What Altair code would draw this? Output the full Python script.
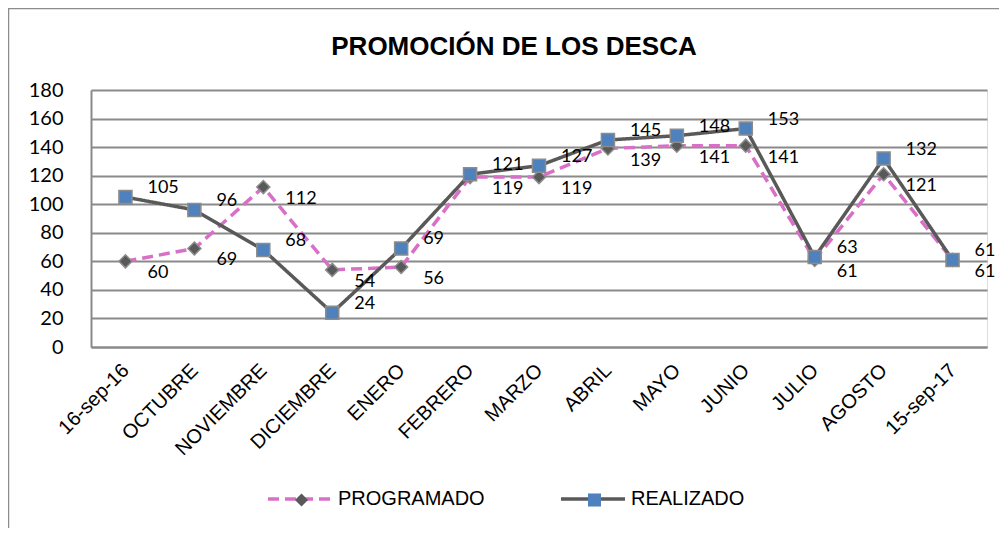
import altair as alt
import pandas as pd

categorias = ["16-sep-16", "OCTUBRE", "NOVIEMBRE", "DICIEMBRE", "ENERO", "FEBRERO",
              "MARZO", "ABRIL", "MAYO", "JUNIO", "JULIO", "AGOSTO", "15-sep-17"]
programado = [60, 69, 112, 54, 56, 119, 119, 139, 141, 141, 61, 121, 61]
realizado = [105, 96, 68, 24, 69, 121, 127, 145, 148, 153, 63, 132, 61]
series = ["PROGRAMADO", "REALIZADO"]
marcadores = ["PROGRAMADO ", "REALIZADO "]
y_ticks = [0, 20, 40, 60, 80, 100, 120, 140, 160, 180]
titulo = "PROMOCIÓN DE LOS DESCA"

rows = []
for i, c in enumerate(categorias):
    rows.append({"mes": c, "valor": programado[i], "serie": series[0], "serie_m": marcadores[0], "orden": 0})
for i, c in enumerate(categorias):
    rows.append({"mes": c, "valor": realizado[i], "serie": series[1], "serie_m": marcadores[1], "orden": 1})
df = pd.DataFrame(rows)

PINK = "#D870C8"
DARK = "#595959"
BLUE = "#4F81BD"
GRIDC = "#8A8A8A"
LEG_FONT = "Liberation Sans"

x_enc = alt.X("mes:N", sort=categorias,
              scale=alt.Scale(type="point", padding=0.5),
              axis=alt.Axis(title=None, labelAngle=-45, labelAlign="right", labelBaseline="middle",
                            labelFont="Liberation Sans", labelFontSize=20, labelColor="#000000",
                            labelPadding=20, ticks=False, domainColor=GRIDC, domainWidth=2,
                            grid=False, labelOverlap=False))
y_enc = alt.Y("valor:Q", scale=alt.Scale(domain=[0, 180], nice=False, zero=True),
              axis=alt.Axis(title=None, values=y_ticks, grid=True, gridColor=GRIDC, gridWidth=2,
                            ticks=False, domainColor=GRIDC, domainWidth=2,
                            labelFont="Lato", labelFontSize=20, labelColor="#000000",
                            labelPadding=28))

base = alt.Chart(df)

line_legend = alt.Legend(title=None, orient="none", legendX=175, legendY=375,
                         direction="horizontal", columns=2, symbolType="stroke",
                         symbolSize=4096, symbolStrokeWidth=3.5, labelOffset=4,
                         columnPadding=69, labelFont=LEG_FONT, labelFontSize=20,
                         labelColor="#000000", padding=0)

lines = base.mark_line(strokeWidth=3.5).encode(
    x=x_enc, y=y_enc,
    stroke=alt.Stroke("serie:N", scale=alt.Scale(domain=series, range=[PINK, DARK]),
                      legend=line_legend),
    strokeDash=alt.StrokeDash("serie:N", scale=alt.Scale(domain=series, range=[[11, 6], [1, 0]]),
                              legend=line_legend),
    order=alt.Order("orden:Q"),
)

pt_legend = alt.Legend(title=None, orient="none", legendX=200.5, legendY=400,
                       direction="horizontal", columns=2, symbolSize=170,
                       symbolStrokeWidth=1.5, symbolStrokeColor="#8C8C8C",
                       labelOffset=0, columnPadding=273, labelExpr="''",
                       labelFont=LEG_FONT, labelFontSize=20, padding=0)

points = base.mark_point(filled=True, size=170, strokeWidth=1.5, opacity=1,
                         stroke="#8C8C8C").encode(
    x=x_enc, y=y_enc,
    shape=alt.Shape("serie_m:N", scale=alt.Scale(domain=marcadores, range=["diamond", "square"]),
                    legend=pt_legend),
    fill=alt.Fill("serie_m:N", scale=alt.Scale(domain=marcadores, range=[DARK, BLUE]),
                  legend=pt_legend),
)

labels_p = base.transform_filter(alt.datum.serie == series[0]).mark_text(
    align="left", baseline="middle", dx=22, dy=12, font="Lato", fontSize=18,
    color="#000000").encode(x=x_enc, y=y_enc, text=alt.Text("valor:Q"))

labels_r = base.transform_filter(alt.datum.serie == series[1]).mark_text(
    align="left", baseline="middle", dx=22, dy=-9, font="Lato", fontSize=18,
    color="#000000").encode(x=x_enc, y=y_enc, text=alt.Text("valor:Q"))

title_mark = alt.Chart(pd.DataFrame({"t": [titulo]})).mark_text(
    font="Liberation Sans", fontSize=26, fontWeight="bold", color="#000000",
    align="center", baseline="alphabetic").encode(
    text="t:N", x=alt.value(423), y=alt.value(-35))

border = alt.Chart(pd.DataFrame({"k": [0]})).mark_rect(
    fillOpacity=0, stroke="#8C8C8C", strokeWidth=1.5).encode(
    x=alt.value(-82.5), x2=alt.value(1100), y=alt.value(-81.5), y2=alt.value(700))

chart = alt.layer(border, title_mark, lines, points, labels_p, labels_r).properties(
    width=896, height=257,
    padding={"left": 83, "top": 82, "right": 12, "bottom": 181},
    autosize=alt.AutoSizeParams(type="none"),
).configure_view(stroke=None).configure(background="#FFFFFF")

chart.save("out.html", embed_options={"renderer": "svg", "actions": False})
